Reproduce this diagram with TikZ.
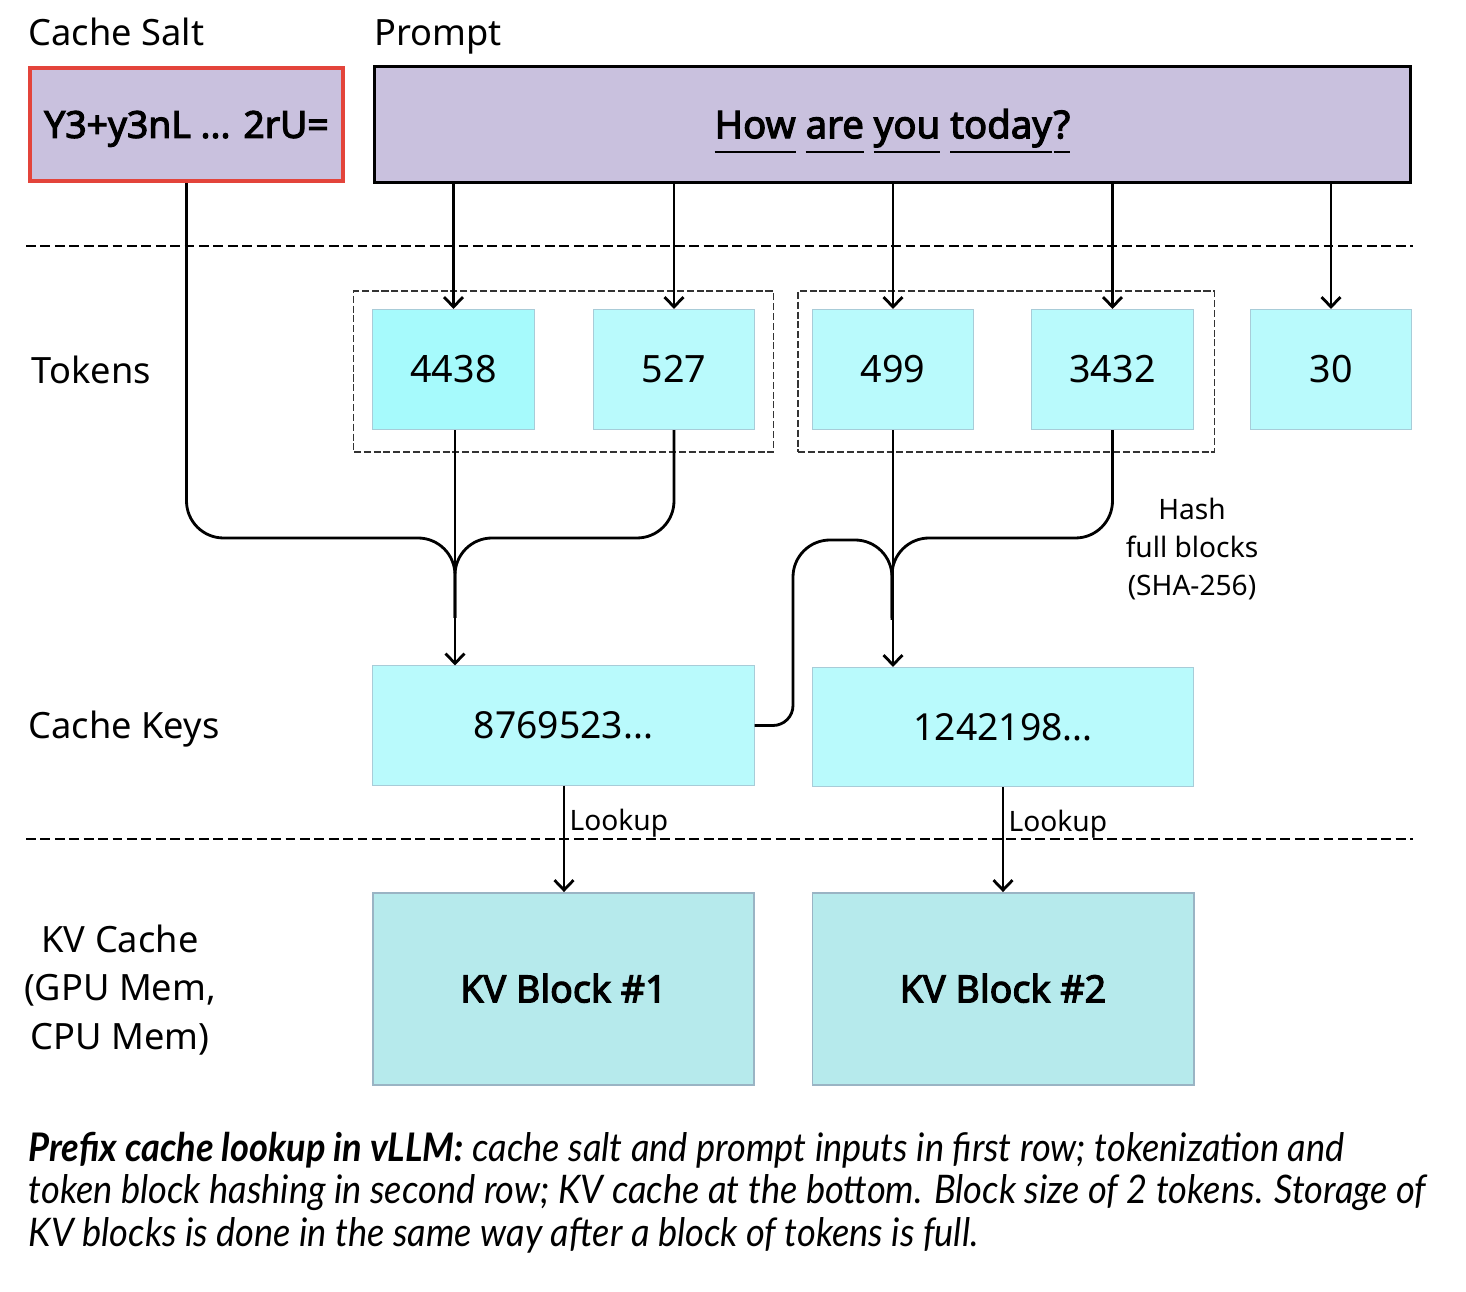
\documentclass[tikz,border=0pt]{standalone}
\usepackage{fontspec}
\setmainfont{Noto Sans}
\newfontfamily\bsans[FakeBold=3]{Noto Sans}
\newfontfamily\capfont[FakeStretch=0.92]{Lato}
\usetikzlibrary{arrows.meta}
\definecolor{lav}{HTML}{C9C1DE}
\definecolor{saltred}{HTML}{E3443B}
\definecolor{tokA}{HTML}{A6FAFC}
\definecolor{tokB}{HTML}{B9FAFC}
\definecolor{tokline}{HTML}{A8CCD8}
\definecolor{kvfill}{HTML}{B6EAEC}
\definecolor{kvline}{HTML}{9AB4C4}
\newcommand\tokul[1]{\setbox0\hbox{#1}\rlap{\raisebox{-4.3pt}{\rule{\wd0}{0.6pt}}}\box0\relax}
\tikzset{
  lbl/.style={font=\fontsize{10.3pt}{12pt}\selectfont, inner sep=0pt},
  tok/.style={draw=tokline, line width=0.3pt, fill=tokB, minimum width=1.61cm, minimum height=1.2cm, inner sep=0pt, text height=7.6pt, text depth=0pt, font=\fontsize{10.7pt}{12pt}\selectfont},
  grp/.style={draw=black!80, line width=0.35pt, dash pattern=on 2pt off 0.8pt, minimum width=4.19cm, minimum height=1.61cm, inner sep=0pt},
  keybox/.style={draw=tokline, line width=0.3pt, fill=tokB, minimum width=3.81cm, minimum height=1.19cm, inner sep=0pt, text height=7.6pt, text depth=0pt, font=\fontsize{10.6pt}{12pt}\selectfont},
  kvbox/.style={draw=kvline, line width=0.5pt, fill=kvfill, minimum width=3.81cm, minimum height=1.92cm, inner sep=0pt, text height=7.6pt, text depth=0pt, font=\bsans\fontsize{10.7pt}{12pt}\selectfont},
  conn/.style={line width=0.8pt},
  arr/.style={conn, -{Straight Barb[length=2.8pt,width=5.4pt,line width=0.8pt]}},
  sep/.style={line width=0.6pt, dash pattern=on 2.8pt off 1.3pt},
  small/.style={font=\fontsize{8pt}{10.8pt}\selectfont, inner sep=0pt}
}
\begin{document}
\begin{tikzpicture}[x=0.01cm,y=-0.01cm]
\useasboundingbox (0,0) rectangle (1466,1292);
% headers
\node[lbl, anchor=base west] (hsalt) at (28,46) {Cache Salt};
\node[lbl, anchor=base west] (hprompt) at (374,46) {Prompt};
\node[draw=saltred, line width=1.15pt, fill=lav, minimum width=3.13cm, minimum height=1.13cm, inner sep=0pt, text height=7.6pt, text depth=0pt, font=\bsans\fontsize{10.6pt}{12pt}\selectfont] (salt) at (186.5,124.5) {Y3+y3nL ... 2rU=};
\node[draw=black, line width=0.85pt, fill=lav, minimum width=10.35cm, minimum height=1.15cm, inner sep=0pt, text height=7.8pt, text depth=0pt, font=\bsans\fontsize{10.9pt}{12pt}\selectfont] (prompt) at (892.5,124.5) {\tokul{How} \tokul{are} \tokul{you} \tokul{today}\kern0.5pt\tokul{?}};
% separators
\coordinate (s1a) at (26,246); \coordinate (s1b) at (1413,246);
\coordinate (s2a) at (26,839); \coordinate (s2b) at (1413,839);
\draw[sep] (s1a) -- (s1b);
\draw[sep] (s2a) -- (s2b);
% token groups
\node[grp] (g1) at (563.5,371.5) {};
\node[grp, minimum width=4.16cm] (g2) at (1006,371.5) {};
% tokens
\node[lbl, anchor=base west] (htok) at (31,384) {Tokens};
\node[tok, fill=tokA] (t1) at (453.5,369.5) {4438};
\node[tok] (t2) at (674,369.5) {527};
\node[tok] (t3) at (893,369.5) {499};
\node[tok] (t4) at (1112.5,369.5) {3432};
\node[tok] (t5) at (1331,369.5) {30};
% prompt -> tokens
\draw[arr] (prompt.south -| t1) -- (t1.north);
\draw[arr] (prompt.south -| t2) -- (t2.north);
\draw[arr] (prompt.south -| t3) -- (t3.north);
\draw[arr] (prompt.south -| t4) -- (t4.north);
\draw[arr] (prompt.south -| t5) -- (t5.north);
% cache keys
\node[lbl, anchor=base west] (hkey) at (28,739) {Cache Keys};
\node[keybox] (k1) at (563.5,725.5) {8769523...};
\node[keybox] (k2) at (1003,727) {1242198...};
% merges
\coordinate (m1) at (455,538);
\coordinate (m2) at (892,538);
\draw[conn, rounded corners=0.37cm] (salt.south) |- (m1) -- ++(0,80);
\draw[conn, rounded corners=0.37cm] (t2.south) |- (m1) -- ++(0,80);
\draw[arr] (t1.south -| m1) -- (k1.north -| m1);
\draw[conn, rounded corners=0.37cm] (t4.south) |- (m2) -- ++(0,80);
\draw[conn] (k1.east) [rounded corners=0.2cm] -| (793,620) [rounded corners=0.37cm] -- (793,540) -- (892,540) -- (892,620);
\draw[arr] (t3.south) -- (k2.north -| t3);
\node[small, align=center] (hash) at (1192,549) {Hash\\full blocks\\(SHA-256)};
% KV cache
\node[lbl, align=center, font=\fontsize{10.3pt}{13.7pt}\selectfont] (hkv) at (120,990) {KV Cache\\(GPU Mem,\\CPU Mem)};
\node[kvbox] (kv1) at (563.5,989) {KV Block \#1};
\node[kvbox] (kv2) at (1003,989) {KV Block \#2};
\draw[arr] (k1.south -| 564,0) -- (kv1.north -| 564,0) node[small, pos=0.3, anchor=west, xshift=1.2pt, yshift=-1.7pt] (lk1) {Lookup};
\draw[arr] (k2.south -| 1003,0) -- (kv2.north -| 1003,0) node[small, pos=0.3, anchor=west, xshift=1.2pt, yshift=-1.7pt] (lk2) {Lookup};
% caption
\node[anchor=north west, align=left, inner sep=0pt, font=\capfont\itshape\fontsize{11.2pt}{11.95pt}\selectfont] (cap) at (28,1132) {\textbf{Prefix cache lookup in vLLM:} cache salt and prompt inputs in first row; tokenization and\\token block hashing in second row; KV cache at the bottom. Block size of 2 tokens. Storage of\\KV blocks is done in the same way after a block of tokens is full.};
\end{tikzpicture}
\end{document}
